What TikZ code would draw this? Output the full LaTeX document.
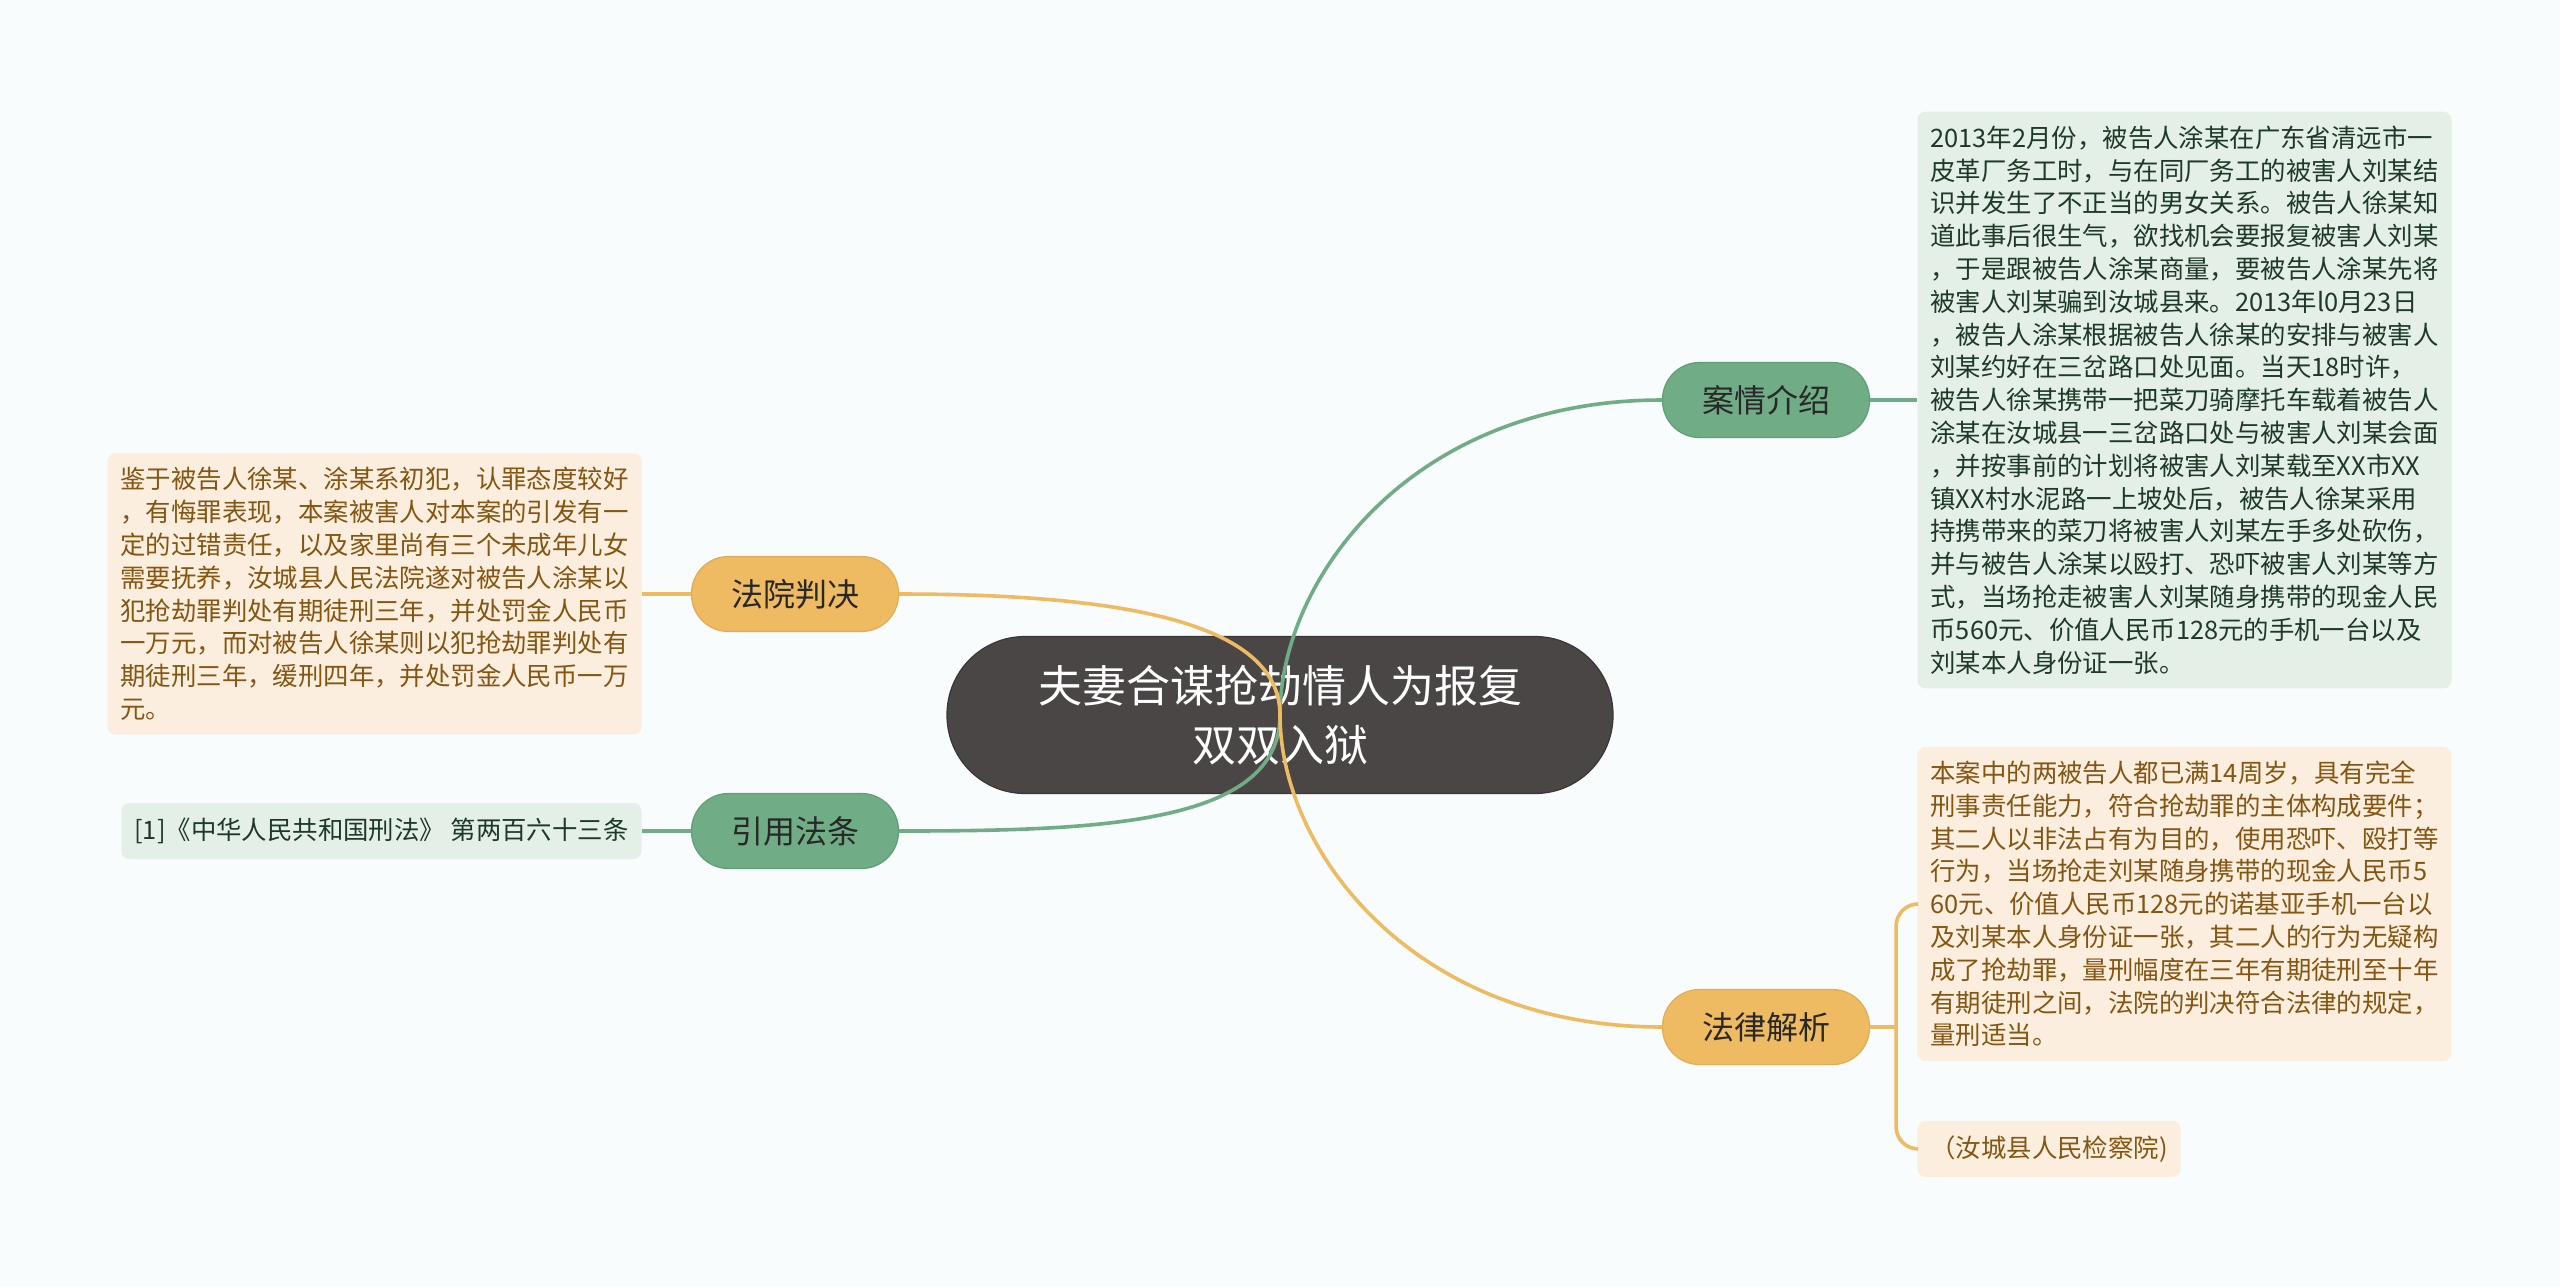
\documentclass[tikz,border=0pt]{standalone}
\usepackage{fontspec}
\setmainfont{Noto Sans CJK SC}
\usetikzlibrary{positioning,calc}
\definecolor{bg}{RGB}{248,252,252}
\definecolor{rootfill}{RGB}{75,70,70}
\definecolor{rootedge}{RGB}{58,54,54}
\definecolor{green}{RGB}{112,172,133}
\definecolor{greenedge}{RGB}{96,158,118}
\definecolor{orange}{RGB}{238,186,98}
\definecolor{orangeedge}{RGB}{226,172,84}
\definecolor{gcard}{RGB}{228,239,232}
\definecolor{ocard}{RGB}{251,238,222}
\definecolor{gink}{RGB}{30,58,38}
\definecolor{oink}{RGB}{132,86,18}
\definecolor{ink}{RGB}{40,40,40}
\tikzset{
  root/.style={fill=rootfill, draw=rootedge, line width=0.6pt, rounded corners=39pt,
               minimum width=333pt, minimum height=78.5pt, align=center, text=white,
               font=\fontsize{22pt}{29.4pt}\selectfont},
  gtopic/.style={fill=green, draw=greenedge, line width=0.6pt, rounded corners=18.5pt,
               minimum width=103.5pt, minimum height=37.5pt, text=ink,
               font=\fontsize{16pt}{19pt}\selectfont},
  otopic/.style={gtopic, fill=orange, draw=orangeedge},
  gbox/.style={fill=gcard, rounded corners=4pt, align=left, text=gink,
               inner xsep=6.5pt, inner ysep=7pt, minimum height=28pt,
               font=\fontsize{12.7pt}{16.4pt}\selectfont},
  obox/.style={gbox, fill=ocard, text=oink},
  gline/.style={draw=green, line width=1.8pt},
  oline/.style={draw=orange, line width=1.8pt},
}
\begin{document}
\begin{tikzpicture}[x=0.5pt, y=-0.5pt, node distance=23.5pt]
  \fill[bg] (0,0) rectangle (2560,1287);
  \useasboundingbox (0,0) rectangle (2560,1287);

  \node[root] (root) at (1280,715) {夫妻合谋抢劫情人为报复\\双双入狱};

  % branches
  \node[gtopic] (jqjs) at (1766,400) {案情介绍};
  \node[otopic] (flyx) at (1766,1027) {法律解析};
  \node[otopic] (fypj) at (795,594) {法院判决};
  \node[gtopic] (yyft) at (795,831) {引用法条};

  % right side texts
  \node[gbox, text width=254pt, right=of jqjs] (jqtext) {%
    2013年2月份，被告人涂某在广东省清远市一\\
    皮革厂务工时，与在同厂务工的被害人刘某结\\
    识并发生了不正当的男女关系。被告人徐某知\\
    道此事后很生气，欲找机会要报复被害人刘某\\
    ，于是跟被告人涂某商量，要被告人涂某先将\\
    被害人刘某骗到汝城县来。2013年l0月23日\\
    ，被告人涂某根据被告人徐某的安排与被害人\\
    刘某约好在三岔路口处见面。当天18时许，\\
    被告人徐某携带一把菜刀骑摩托车载着被告人\\
    涂某在汝城县一三岔路口处与被害人刘某会面\\
    ，并按事前的计划将被害人刘某载至XX市XX\\
    镇XX村水泥路一上坡处后，被告人徐某采用\\
    持携带来的菜刀将被害人刘某左手多处砍伤，\\
    并与被告人涂某以殴打、恐吓被害人刘某等方\\
    式，当场抢走被害人刘某随身携带的现金人民\\
    币560元、价值人民币128元的手机一台以及\\
    刘某本人身份证一张。};
  \node[obox, text width=254pt, anchor=west] (fxtext) at (1917,904) {%
    本案中的两被告人都已满14周岁，具有完全\\
    刑事责任能力，符合抢劫罪的主体构成要件；\\
    其二人以非法占有为目的，使用恐吓、殴打等\\
    行为，当场抢走刘某随身携带的现金人民币5\\
    60元、价值人民币128元的诺基亚手机一台以\\
    及刘某本人身份证一张，其二人的行为无疑构\\
    成了抢劫罪，量刑幅度在三年有期徒刑至十年\\
    有期徒刑之间，法院的判决符合法律的规定，\\
    量刑适当。};
  \node[obox, below=29.5pt of fxtext.south west, anchor=north west] (jcy) {（汝城县人民检察院)};

  % left side texts
  \node[obox, text width=254pt, left=24.5pt of fypj] (fytext) {%
    鉴于被告人徐某、涂某系初犯，认罪态度较好\\
    ，有悔罪表现，本案被害人对本案的引发有一\\
    定的过错责任，以及家里尚有三个未成年儿女\\
    需要抚养，汝城县人民法院遂对被告人涂某以\\
    犯抢劫罪判处有期徒刑三年，并处罚金人民币\\
    一万元，而对被告人徐某则以犯抢劫罪判处有\\
    期徒刑三年，缓刑四年，并处罚金人民币一万\\
    元。};
  \node[gbox, left=24.5pt of yyft] (ftext) {[1]《中华人民共和国刑法》 第两百六十三条};

  % connectors
  \draw[gline] (root.center) to[out=90, in=180, out looseness=0.7, in looseness=1.3] (jqjs.west);
  \draw[gline] (root.center) to[out=-90, in=0, out looseness=0.7, in looseness=1.3] (yyft.east);
  \draw[oline] (root.center) to[out=90, in=0, out looseness=0.6, in looseness=1.4] (fypj.east);
  \draw[oline] (root.center) to[out=-90, in=180, out looseness=0.7, in looseness=1.3] (flyx.west);

  \draw[gline] (jqjs.east) -- (jqtext.west);
  \draw[oline] (fypj.west) -- (fytext.east);
  \draw[gline] (yyft.west) -- (ftext.east);
  \coordinate (fork) at ($(flyx.east)+(13pt,0)$);
  \draw[oline] (flyx.east) -- (fork);
  \draw[oline, rounded corners=11pt] (fork) |- (fxtext.west);
  \draw[oline, rounded corners=11pt] (fork) |- (jcy.west);
\end{tikzpicture}
\end{document}
